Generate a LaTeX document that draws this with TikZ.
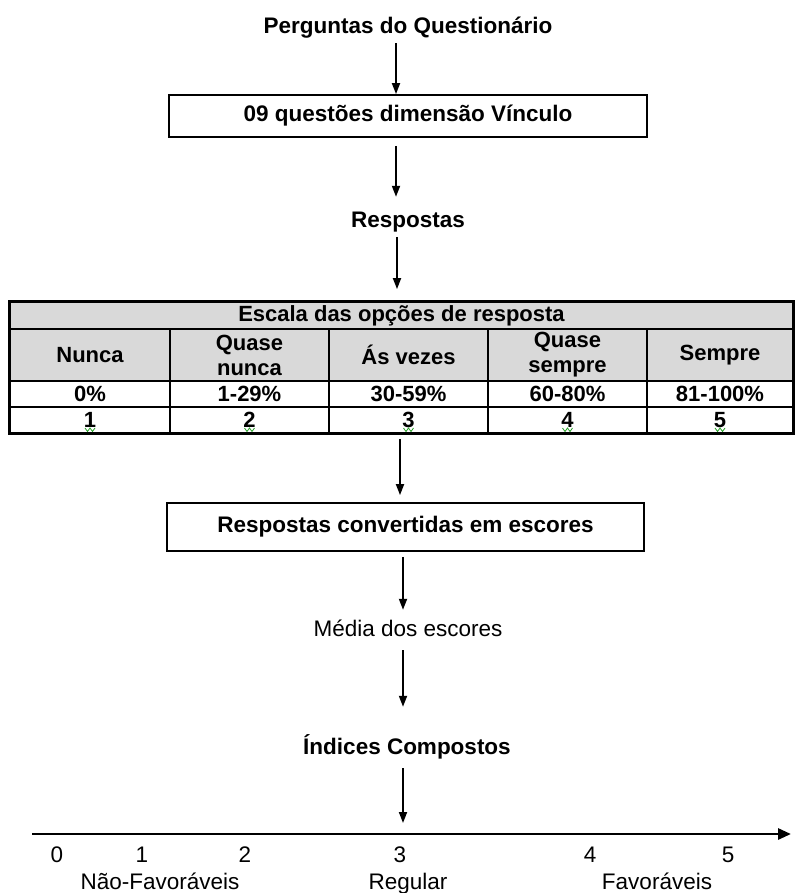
\documentclass[tikz,border=0pt]{standalone}
\usepackage{fontspec}
\setmainfont{Liberation Sans}
\usetikzlibrary{arrows.meta,calc}
\definecolor{tgray}{RGB}{217,217,217}
\definecolor{squig}{RGB}{40,160,40}
\begin{document}
\begin{tikzpicture}[x=1pt,y=-1pt,
  bt/.style={font=\fontsize{22.5}{25}\selectfont\bfseries, inner sep=1pt, text height=16pt, text depth=5pt},
  rt/.style={font=\fontsize{22.5}{25}\selectfont, inner sep=1pt, text height=16pt, text depth=5pt},
  box/.style={bt, draw, line width=1.8pt, inner sep=0pt},
  arr/.style={line width=1.8pt, -{Triangle[width=8pt,length=11pt]}},
  cell/.style={draw, line width=1.8pt, inner sep=0pt, font=\fontsize{22}{25}\selectfont\bfseries, align=center},
  sq/.style={squig, line width=0.8pt},
]
\useasboundingbox (0,0) rectangle (795,893);

% top flow
\node[bt, anchor=base] (p) at (408,34) {Perguntas do Questionário};
\node[box, minimum width=478pt, minimum height=42pt] (b1) at (408,116) {09 questões dimensão Vínculo};
\node[bt, anchor=base] (r) at (408,228) {Respostas};

% table
\node[cell, fill=tgray, minimum width=783pt, minimum height=27pt] (hdr) at (401.5,315.5) {Escala das opções de resposta};

\node[cell, fill=tgray, minimum width=160pt, minimum height=52pt] (c1) at (90,355) {Nunca};
\node[cell, fill=tgray, minimum width=159pt, minimum height=52pt] (c2) at (249.5,355) {Quase\\nunca};
\node[cell, fill=tgray, minimum width=159pt, minimum height=52pt] (c3) at (408.5,355) {Ás vezes};
\node[cell, fill=tgray, minimum width=159pt, minimum height=52pt] (c4) at (567.5,355) {Quase\\sempre};
\node[cell, fill=tgray, minimum width=146pt, minimum height=52pt] (c5) at (720,355) {Sempre};

\node[cell, minimum width=160pt, minimum height=26pt] (q1) at (90,394) {0\%};
\node[cell, minimum width=159pt, minimum height=26pt] (q2) at (249.5,394) {1-29\%};
\node[cell, minimum width=159pt, minimum height=26pt] (q3) at (408.5,394) {30-59\%};
\node[cell, minimum width=159pt, minimum height=26pt] (q4) at (567.5,394) {60-80\%};
\node[cell, minimum width=146pt, minimum height=26pt] (q5) at (720,394) {81-100\%};

\node[cell, minimum width=160pt, minimum height=26pt] (n1) at (90,420) {1};
\node[cell, minimum width=159pt, minimum height=26pt] (n2) at (249.5,420) {2};
\node[cell, minimum width=159pt, minimum height=26pt] (n3) at (408.5,420) {3};
\node[cell, minimum width=159pt, minimum height=26pt] (n4) at (567.5,420) {4};
\node[cell, minimum width=146pt, minimum height=26pt] (n5) at (720,420) {5};

\draw[line width=2.2pt] (hdr.north west) rectangle (n5.south east);

\foreach \n in {n1,n2,n3,n4,n5}{
  \draw[sq] ($(\n.center)+(-5,8)$) -- ++(2.5,3.5) -- ++(2.5,-3.5) -- ++(2.5,3.5) -- ++(2.5,-3.5);
}

% lower flow
\node[box, minimum width=477pt, minimum height=48pt] (b2) at (405.5,527) {Respostas convertidas em escores};
\node[rt, anchor=base] (m) at (408,636) {Média dos escores};
\node[bt, anchor=base] (i) at (407,754) {Índices Compostos};

% axis
\coordinate (a0) at (32,834);
\coordinate (a1) at (791,834);
\draw[line width=2.8pt, -{Triangle[width=11pt,length=13pt]}] (a0) -- (a1);

\node[rt, anchor=base] (t0) at (57,862) {0};
\node[rt, anchor=base] (t1) at (142,862) {1};
\node[rt, anchor=base] (t2) at (245,862) {2};
\node[rt, anchor=base] (t3) at (400,862) {3};
\node[rt, anchor=base] (t4) at (590,862) {4};
\node[rt, anchor=base] (t5) at (728,862) {5};

\node[rt, anchor=base] (l1) at (160,889) {Não-Favoráveis};
\node[rt, anchor=base] (l2) at (408,889) {Regular};
\node[rt, anchor=base] (l3) at (657,889) {Favoráveis};

% arrows
\draw[arr, shorten <=3pt] ([xshift=-12pt]p.south) -- ([xshift=-12pt]p.south |- b1.north);
\draw[arr, shorten <=8pt, shorten >=14pt] ([xshift=-12pt]b1.south) -- ([xshift=-12pt]b1.south |- r.north);
\draw[arr, shorten <=2.6pt, shorten >=12pt] ([xshift=-11pt]r.south) -- ([xshift=-11pt]r.south |- hdr.north);
\draw[arr, shorten <=5pt, shorten >=7pt] ([xshift=-8.5pt]n3.south) -- ([xshift=-8.5pt]n3.south |- b2.north);
\draw[arr, shorten <=5pt, shorten >=9pt] ([xshift=-2.5pt]b2.south) -- ([xshift=-2.5pt]b2.south |- m.north);
\draw[arr, shorten <=8pt, shorten >=30pt] ([xshift=-5pt]m.south) -- ([xshift=-5pt]m.south |- i.north);
\draw[arr, shorten <=8pt, shorten >=11pt] ([xshift=-4pt]i.south) -- ([xshift=-4pt]i.south |- a0);
\end{tikzpicture}
\end{document}
